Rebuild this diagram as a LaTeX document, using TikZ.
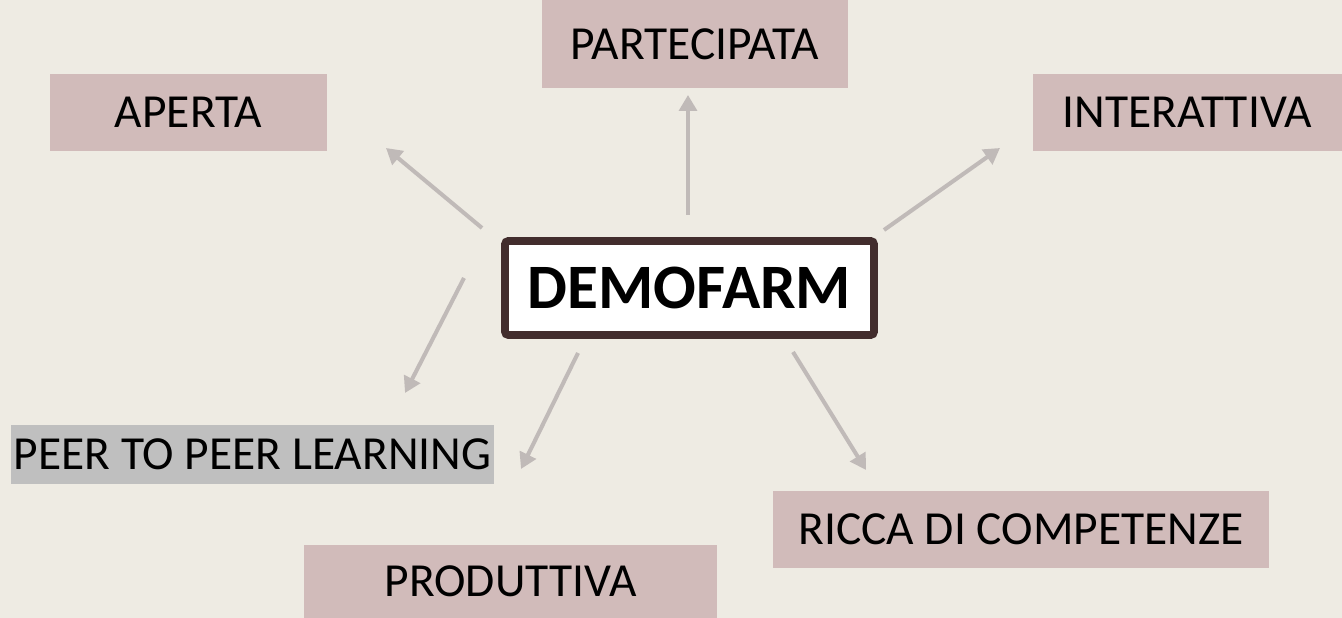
\documentclass[tikz,border=0pt]{standalone}
\usepackage{fontspec}
\setmainfont{Carlito}
\usepackage{tikz}
\usepackage{xcolor}
\usetikzlibrary{arrows.meta}
\definecolor{Demo-Bg}{RGB}{238, 235, 227}
\definecolor{Demo-Box}{RGB}{209, 187, 186}
\definecolor{Demo-Peer}{RGB}{191, 191, 191}
\definecolor{Demo-Edge}{RGB}{66, 45, 45}
\definecolor{Demo-Arrow}{RGB}{192, 186, 184}

\begin{document}
\begin{tikzpicture}[font=\fontsize{27}{31}\selectfont,
    pinkbox/.style={fill=Demo-Box, inner sep=0pt, align=center},
    link/.style={draw=Demo-Arrow, line width=2.3pt, -{Triangle[width=10pt, length=9pt]}}]

    \fill[Demo-Bg] (0,0) rectangle (26.84,12.36);
    \useasboundingbox (0,0) rectangle (26.84,12.36);

    \node[draw=Demo-Edge, line width=4.5pt, fill=white, rounded corners=2pt,
	minimum width=7.38cm, minimum height=1.88cm,
	font=\fontsize{36}{41}\selectfont\bfseries] (demofarm) at (13.79,6.60) {DEMOFARM};

    \node[pinkbox, minimum width=6.12cm, minimum height=1.76cm] (partecipata) at (13.90,11.48) {PARTECIPATA};
    \node[pinkbox, minimum width=5.54cm, minimum height=1.54cm] (aperta) at (3.77,10.11) {APERTA};
    \node[pinkbox, minimum width=6.18cm, minimum height=1.54cm] (interattiva) at (23.75,10.11) {INTERATTIVA};
    \node[pinkbox, fill=Demo-Peer, minimum width=9.66cm, minimum height=1.18cm] (peer) at (5.05,3.27) {PEER TO PEER LEARNING};
    \node[pinkbox, minimum width=9.92cm, minimum height=1.54cm] (ricca) at (20.42,1.77) {RICCA DI COMPETENZE};
    \node[pinkbox, minimum width=8.26cm, minimum height=1.46cm] (produttiva) at (10.21,0.73) {PRODUTTIVA};

    % arrow ends, free of the boxes
    \coordinate (aperta-s) at (9.64,7.80);
    \coordinate (aperta-e) at (7.72,9.40);
    \coordinate (partecipata-s) at (13.76,8.06);
    \coordinate (partecipata-e) at (13.76,10.46);
    \coordinate (interattiva-s) at (17.68,7.76);
    \coordinate (interattiva-e) at (20.00,9.40);
    \coordinate (peer-s) at (9.28,6.80);
    \coordinate (peer-e) at (8.10,4.50);
    \coordinate (produttiva-s) at (11.56,5.30);
    \coordinate (produttiva-e) at (10.42,2.98);
    \coordinate (ricca-s) at (15.86,5.32);
    \coordinate (ricca-e) at (17.32,2.96);

    \draw[link] (aperta-s) -- (aperta-e);
    \draw[link] (partecipata-s) -- (partecipata-e);
    \draw[link] (interattiva-s) -- (interattiva-e);
    \draw[link] (peer-s) -- (peer-e);
    \draw[link] (produttiva-s) -- (produttiva-e);
    \draw[link] (ricca-s) -- (ricca-e);

\end{tikzpicture}
\end{document}
